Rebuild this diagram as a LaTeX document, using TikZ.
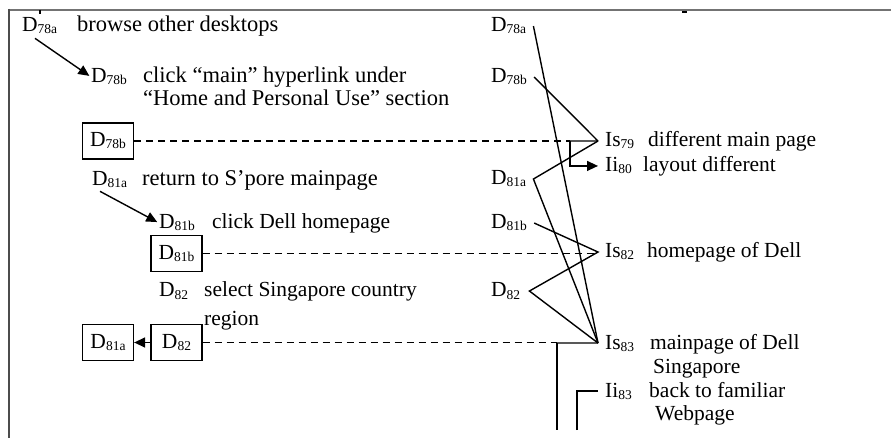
\documentclass[tikz,border=0pt]{standalone}
\usepackage{fontspec}
\setmainfont{Liberation Serif}
\usetikzlibrary{arrows.meta,calc}
\newcommand{\dsub}[1]{\raisebox{-2pt}{\fontsize{13.5}{13.5}\selectfont #1}}

\begin{document}
\begin{tikzpicture}[x=1pt, y=-1pt,
	every node/.style={inner sep=0pt, font=\fontsize{21.5}{25}\selectfont},
	lbl/.style={anchor=base west},
	wide/.style={anchor=base west, font=\fontsize{22.5}{26}\selectfont},
	rlbl/.style={anchor=base west, inner xsep=7pt},
	dbox/.style={draw, line width=1.3pt, minimum width=51pt, minimum height=36pt},
	link/.style={line width=1.4pt},
	dashlink/.style={line width=1.3pt, dash pattern=on 7pt off 5pt},
	arr/.style={line width=1.4pt, -{Triangle[length=11pt,width=10pt]}}]
	%%%%% START %%%%%
	\useasboundingbox (0, 0) rectangle (891, 438);
	
	\draw[line width=2pt, color=black!55] (8, 10) -- (891, 10);
	\draw[line width=1.3pt, color=black!70] (9, 9) -- (9, 438);
	\draw[line width=1.2pt] (40, 10) -- (40, 14);
	\draw[line width=1.2pt] (682, 12) -- (687, 12);
	
	% left column
	\node[lbl] (la78a) at (22, 32) {D\dsub{78a}};
	\node[wide] (t78a) at (77, 32) {browse other desktops};
	\node[lbl] (lb78b) at (91, 83) {D\dsub{78b}};
	\node[wide] (t78b) at (143, 83) {click “main” hyperlink under};
	\node[wide] (t78c) at (143, 106) {“Home and Personal Use” section};
	\node[dbox] (bx78b) at (108, 141) {D\dsub{78b}};
	
	\node[lbl] (la81a) at (92, 186) {D\dsub{81a}};
	\node[wide] (t81a) at (142, 186) {return to S’pore mainpage};
	\node[lbl] (lb81b) at (159, 229) {D\dsub{81b}};
	\node[lbl] (t81b) at (212, 229) {click Dell homepage};
	\node[dbox] (bx81b) at (176.5, 253.5) {D\dsub{81b}};
	
	\node[lbl] (l82) at (159, 297) {D\dsub{82}};
	\node[lbl] (t82) at (204, 297) {select Singapore country};
	\node[lbl] (t82b) at (204, 325) {region};
	\node[dbox] (bx81a) at (108, 342.5) {D\dsub{81a}};
	\node[dbox] (bx82) at (176.5, 342.5) {D\dsub{82}};
	
	\draw[arr, shorten >=2pt] ($(la78a.south west)+(13, 4)$) -- (lb78b.west);
	\draw[arr, shorten >=2pt] ($(la81a.south west)+(8, 3)$) -- (lb81b.west);
	\draw[arr] (bx82) -- (bx81a);
	
	% right column
	\node[rlbl] (r78a) at (484, 32) {D\dsub{78a}};
	\node[rlbl] (r78b) at (484, 83) {D\dsub{78b}};
	\node[rlbl] (r81a) at (484, 185) {D\dsub{81a}};
	\node[rlbl] (r81b) at (484, 229) {D\dsub{81b}};
	\node[rlbl, inner xsep=9pt] (r82) at (482, 297) {D\dsub{82}};
	
	\node[rlbl] (is79) at (598, 147) {Is\dsub{79}};
	\node[lbl] (s79) at (648, 147) {different main page};
	\node[rlbl] (ii80) at (598, 172) {Ii\dsub{80}};
	\node[lbl] (s80) at (643, 172) {layout different};
	\node[rlbl] (is82) at (598, 258) {Is\dsub{82}};
	\node[lbl] (s82) at (647, 258) {homepage of Dell};
	\node[rlbl] (is83) at (598, 349) {Is\dsub{83}};
	\node[lbl] (s83) at (650, 349) {mainpage of Dell};
	\node[lbl] (s83b) at (653, 373) {Singapore};
	\node[rlbl] (ii83) at (598, 397) {Ii\dsub{83}};
	\node[lbl] (s83c) at (649, 397) {back to familiar};
	\node[lbl] (s83d) at (655, 420) {Webpage};
	
	\coordinate (k79) at (570, 141);
	\coordinate (k83) at (557, 343);
	\coordinate (b83) at (557, 430);
	\coordinate (b83i) at (577, 430);
	
	\draw[dashlink] (bx78b.east) -- (k79);
	\draw[link] (k79) -- (is79.west);
	\draw[arr] (k79) |- (ii80.west);
	\draw[dashlink] (bx81b.east) -- (bx81b.east -| is82.west);
	\draw[dashlink] (bx82.east) -- (bx82.east -| k83);
	\draw[link] (k83) -- (is83.west);
	\draw[link] (k83) -- (b83);
	\draw[link] (b83i) |- (ii83.west);
	
	\draw[link] (r78a.east) -- (is83.west);
	\draw[link] (r78b.east) -- (is79.west);
	\draw[link] (is79.west) -- (r81a.east) -- (is83.west);
	\draw[link] (r81b.east) -- (is82.west) -- (r82.east) -- (is83.west);
	%%%%% END %%%%%
\end{tikzpicture}
\end{document}
